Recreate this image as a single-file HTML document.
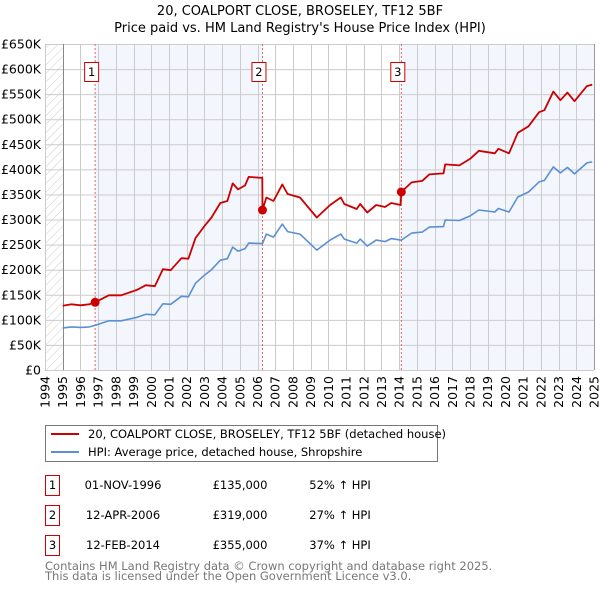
<!DOCTYPE html>
<html><head><meta charset="utf-8"><style>
body{margin:0;background:#fff;font-family:"Liberation Sans","DejaVu Sans",sans-serif}
svg text{font-family:"DejaVu Sans","Liberation Sans",sans-serif}
</style></head><body>
<svg id="c" width="600" height="590" xmlns="http://www.w3.org/2000/svg">
<defs><pattern id="hatch" width="6" height="6" patternUnits="userSpaceOnUse" patternTransform="rotate(45)"><line x1="0" y1="0" x2="0" y2="6" stroke="#ccc" stroke-width="1"/></pattern></defs>
<text x="300" y="15" text-anchor="middle" font-size="13" fill="#000">20, COALPORT CLOSE, BROSELEY, TF12 5BF</text>
<text x="300" y="32" text-anchor="middle" font-size="13" fill="#000">Price paid vs. HM Land Registry's House Price Index (HPI)</text>
<g id="plot"></g>
<g>
<rect x="45.5" y="425.5" width="392" height="36" fill="#fff" stroke="#777"/>
<line x1="51" y1="434" x2="79" y2="434" stroke="#cc0000" stroke-width="2"/>
<text x="88" y="438" font-size="11.5">20, COALPORT CLOSE, BROSELEY, TF12 5BF (detached house)</text>
<line x1="51" y1="452" x2="79" y2="452" stroke="#5b8fd4" stroke-width="2"/>
<text x="88" y="456" font-size="11.5">HPI: Average price, detached house, Shropshire</text>
</g>
<g font-size="11.5">
<rect x="45.5" y="475.5" width="14" height="20" fill="#fff" stroke="#c00"/><text x="52.5" y="489" text-anchor="middle">1</text>
<text x="123" y="489" text-anchor="middle">01-NOV-1996</text><text x="240" y="489" text-anchor="middle">£135,000</text><text x="340" y="489" text-anchor="middle">52% ↑ HPI</text>
<rect x="45.5" y="505.5" width="14" height="20" fill="#fff" stroke="#c00"/><text x="52.5" y="519" text-anchor="middle">2</text>
<text x="123" y="519" text-anchor="middle">12-APR-2006</text><text x="240" y="519" text-anchor="middle">£319,000</text><text x="340" y="519" text-anchor="middle">27% ↑ HPI</text>
<rect x="45.5" y="535.5" width="14" height="20" fill="#fff" stroke="#c00"/><text x="52.5" y="549" text-anchor="middle">3</text>
<text x="123" y="549" text-anchor="middle">12-FEB-2014</text><text x="240" y="549" text-anchor="middle">£355,000</text><text x="340" y="549" text-anchor="middle">37% ↑ HPI</text>
</g>
<text x="45" y="570" font-size="11.5" fill="#777">Contains HM Land Registry data © Crown copyright and database right 2025.</text>
<text x="45" y="580" font-size="11.5" fill="#777">This data is licensed under the Open Government Licence v3.0.</text>
</svg>
<script>
const times=[1995.0,1995.5,1996.0,1996.5,1996.83,1997.6,1998.3,1999.2,1999.7,2000.2,2000.66,2001.1,2001.7,2002.1,2002.5,2003.0,2003.4,2003.9,2004.3,2004.6,2004.9,2005.3,2005.5,2006.27,2006.28,2006.5,2006.9,2007.4,2007.7,2008.4,2009.35,2010.1,2010.7,2010.9,2011.6,2011.8,2012.2,2012.7,2013.2,2013.55,2014.08,2014.12,2014.7,2015.3,2015.7,2016.5,2016.6,2017.4,2018.0,2018.5,2019.4,2019.6,2020.2,2020.7,2021.3,2021.9,2022.2,2022.7,2023.1,2023.5,2023.9,2024.6,2024.9];
const hpiValues=[84,86,85,86,89,98,98,105,111,110,132,131,147,146,173,189,200,219,222,245,237,242,253,252,252,271,265,291,276,271,239,259,271,261,253,261,247,259,256,262,259,259,273,275,285,286,299,298,307,319,315,322,315,345,355,375,378,405,393,404,391,413,415];
const priceValues=[128,131,129,131,135,149,149,160,169,167,201,199,223,222,263,287,304,333,337,372,360,368,385,383,319,344,337,370,351,344,304,329,344,331,321,331,314,329,325,333,329,355,374,377,390,392,410,408,421,437,432,441,432,473,486,514,518,555,538,553,536,566,569];
const saleTimes=[1996.83,2006.28,2014.12];
const salePrices=[135,319,355];
const saleLabels=["1","2","3"];
const yTicks=[0,50,100,150,200,250,300,350,400,450,500,550,600,650];
const yTickLabels=["£0","£50K","£100K","£150K","£200K","£250K","£300K","£350K","£400K","£450K","£500K","£550K","£600K","£650K"];
const years=[];for(let y=1994;y<=2025;y++)years.push(y);

const X0=45,X1=594,Y0=370,Y1=44;
const xs=t=>X0+(t-1994)*(X1-X0)/31;
const ys=v=>Y0-(v)*(Y0-Y1)/650;
const NS="http://www.w3.org/2000/svg";
const g=document.getElementById('plot');
function mk(tag,attrs,parent){const e=document.createElementNS(NS,tag);for(const k in attrs)e.setAttribute(k,attrs[k]);(parent||g).appendChild(e);return e;}

let e=mk('rect',{x:X0,y:Y1,width:xs(1995)-X0,height:Y0-Y1,fill:'url(#hatch)'});


e=mk('rect',{x:xs(saleTimes[0]),y:Y1,width:xs(saleTimes[1])-xs(saleTimes[0]),height:Y0-Y1,fill:'#f3f6fd'});


e=mk('rect',{x:xs(saleTimes[2]),y:Y1,width:X1-xs(saleTimes[2]),height:Y0-Y1,fill:'#f3f6fd'});



yTicks.forEach((v,i)=>{
 const l=mk('line',{x1:X0,x2:X1,y1:ys(v)+0.5,y2:ys(v)+0.5,stroke:'#cccccc','stroke-width':1});
 
 
 const t=mk('text',{x:41,y:ys(v)+4.5,'text-anchor':'end','font-size':12.5,fill:'#000'});
 t.textContent=yTickLabels[i];
 
 
});
years.forEach(y=>{
 const x=Math.round(xs(y))+0.5;
 const l=mk('line',{x1:x,x2:x,y1:Y1,y2:Y0,stroke:'#cccccc','stroke-width':1});
 
 
 const t=mk('text',{x:0,y:0,'text-anchor':'end','font-size':12.5,fill:'#000',transform:`translate(${xs(y)+4.5},376) rotate(-90)`});
 t.textContent=y;
 
 
});
e=mk('line',{x1:Math.round(xs(1995))+0.5,x2:Math.round(xs(1995))+0.5,y1:Y1,y2:Y0,stroke:'#888','stroke-width':1});


e=mk('line',{x1:X1+0.5,x2:X1+0.5,y1:Y1,y2:Y0,stroke:'#999','stroke-width':1});



saleTimes.forEach((t,i)=>{
 const l=mk('line',{x1:xs(t),x2:xs(t),y1:Y1,y2:Y0,stroke:'#e06666','stroke-width':1,'stroke-dasharray':'2,2'});
 
 
});

const path=(vals)=>times.map((t,i)=>(i?'L':'M')+xs(t).toFixed(1)+','+ys(vals[i]).toFixed(1)).join('');
e=mk('path',{d:path(hpiValues),fill:'none',stroke:'#5b8fd4','stroke-width':1.6,'stroke-linejoin':'round'});


e=mk('path',{d:path(priceValues),fill:'none',stroke:'#cc0000','stroke-width':1.8,'stroke-linejoin':'round'});



saleTimes.forEach((t,i)=>{
 const c=mk('circle',{cx:xs(t),cy:ys(salePrices[i]),r:4.5,fill:'#cc0000'});
 
 
 const r=mk('rect',{x:xs(t)-10.5,y:62.5,width:14,height:19,fill:'#fff',stroke:'#c00'});
 
 
 const tx=mk('text',{x:xs(t)-3.5,y:76,'text-anchor':'middle','font-size':11.5,fill:'#000'});
 tx.textContent=saleLabels[i];
 
 
});
</script>
</body></html>
